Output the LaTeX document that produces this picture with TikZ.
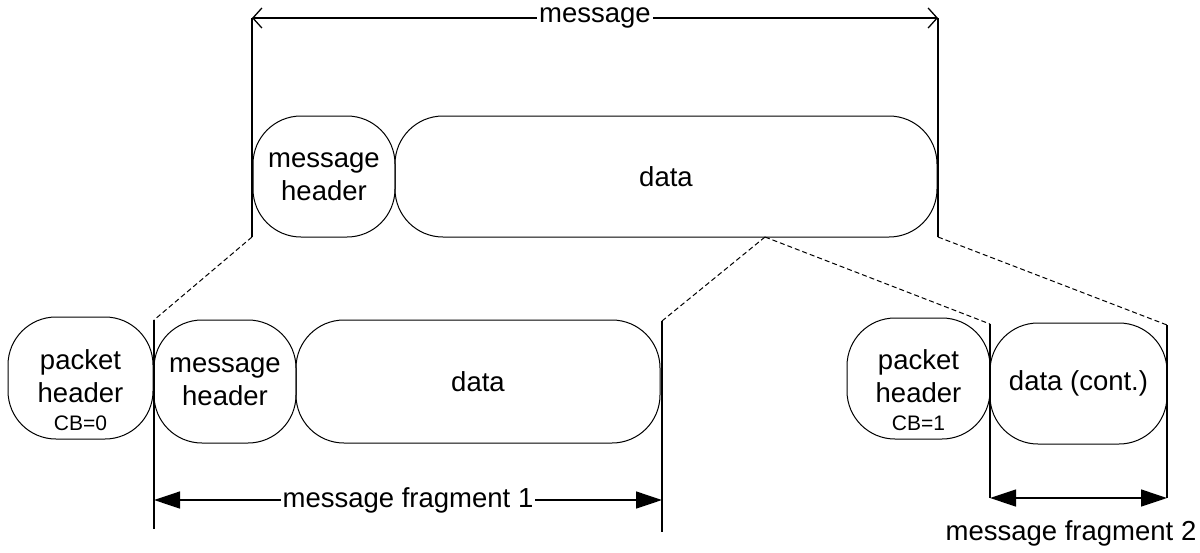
\documentclass[tikz,border=0pt]{standalone}
\usepackage{fontspec}
\setmainfont{Liberation Sans}
\usetikzlibrary{arrows.meta}
\begin{document}
\begin{tikzpicture}[x=1pt,y=-1pt,
  every node/.style={font=\fontsize{27.5}{33}\selectfont, inner sep=0pt},
  seg/.style={draw, line width=1pt, rounded corners=48pt},
  txt/.style={align=center},
  rule/.style={line width=1.3pt},
  cut/.style={line width=1pt, dash pattern=on 5pt off 3pt},
  span/.style={line width=1.3pt, {Straight Barb[length=9pt,width=20pt]}-{Straight Barb[length=9pt,width=20pt]}},
  fragspan/.style={line width=1.3pt, {Triangle[length=26pt,width=17pt]}-{Triangle[length=26pt,width=17pt]}},
  tag/.style={fill=white, inner xsep=2pt, inner ysep=1pt}]
\useasboundingbox (0,0) rectangle (1200,552);

% whole message
\node[seg, minimum width=142pt, minimum height=121pt, txt] (mh) at (324,176.5) {message\\header};
\node[seg, minimum width=542pt, minimum height=121pt] (d) at (666,176.5) {data};

% fragment 1
\node[seg, minimum width=145pt, minimum height=122pt] (ph1) at (80.5,378) {};
\node[txt] (ph1t) at (80.5,389.7) {packet\\header\\[-5pt]{\fontsize{21}{21}\selectfont CB=0}};
\node[seg, minimum width=142pt, minimum height=123pt, txt] (mh2) at (225,381.5) {message\\header};
\node[seg, minimum width=364pt, minimum height=123pt] (d2) at (478,381.5) {data};

% fragment 2
\node[seg, minimum width=143pt, minimum height=121pt] (ph2) at (918.5,378.5) {};
\node[txt] (ph2t) at (918.5,390.2) {packet\\header\\[-5pt]{\fontsize{21}{21}\selectfont CB=1}};
\node[seg, minimum width=177pt, minimum height=121pt] (dc) at (1078.5,383.5) {data (cont.)};

% extent markers
\coordinate (mTL) at (252,18);
\coordinate (mTR) at (938,18);
\coordinate (mBL) at (252,237);
\coordinate (mBR) at (938,237);
\coordinate (split) at (765,237);
\coordinate (f1TL) at (154,320);
\coordinate (f1BL) at (154,529);
\coordinate (f1AL) at (154,500);
\coordinate (f1TR) at (662,321);
\coordinate (f1BR) at (662,532);
\coordinate (f1AR) at (662,500);
\coordinate (f2TL) at (990,324);
\coordinate (f2AL) at (990,498);
\coordinate (f2TR) at (1167,325);
\coordinate (f2AR) at (1167,498);

\draw[rule] (mTL) -- (mBL);
\draw[rule] (mTR) -- (mBR);
\draw[rule] (f1TL) -- (f1BL);
\draw[rule] (f1TR) -- (f1BR);
\draw[rule] (f2TL) -- (f2AL);
\draw[rule] (f2TR) -- (f2AR);

% projections of the message onto the fragments
\draw[cut] (mBL) -- (f1TL);
\draw[cut] (split) -- (f1TR);
\draw[cut] (split) -- (f2TL);
\draw[cut] (mBR) -- (f2TR);

% dimension arrows
\draw[span] (mTL) -- node[tag] (mlab) {message} (mTR);
\draw[fragspan] (f1AL) -- node[tag] (f1lab) {message fragment 1} (f1AR);
\draw[fragspan] (f2AL) -- (f2AR);
\node (f2lab) at (1071,533) {message fragment 2};
\end{tikzpicture}
\end{document}
